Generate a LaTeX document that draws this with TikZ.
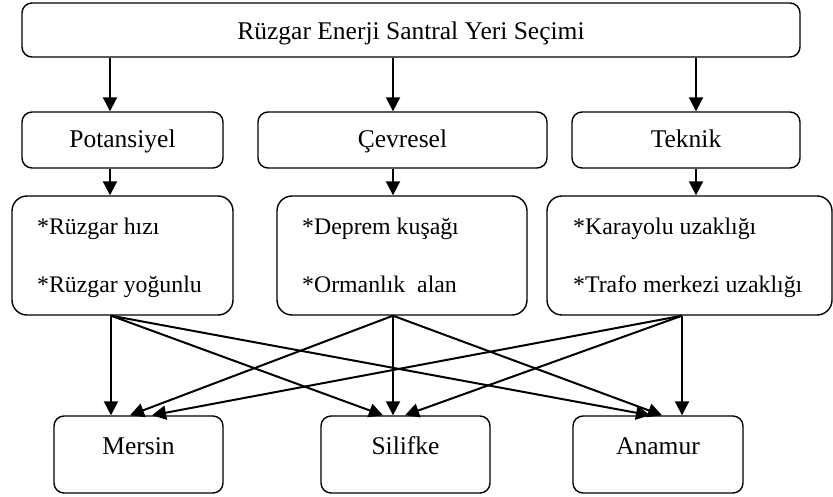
\documentclass[tikz,border=0pt]{standalone}
\usepackage{fontspec}
\setmainfont{Liberation Serif}
\usetikzlibrary{arrows.meta,calc}
\begin{document}
\begin{tikzpicture}[x=1pt,y=-1pt,
  box/.style={draw, line width=1.4pt, rounded corners=10pt, inner sep=0pt},
  bigbox/.style={box, rounded corners=15pt},
  arr/.style={line width=2pt, -{Triangle[length=14pt,width=14pt]}},
  hd/.style={font=\fontsize{25.5}{28}\selectfont},
  it/.style={font=\fontsize{23.8}{26}\selectfont, anchor=base west, inner sep=0pt}]
\useasboundingbox (0,0) rectangle (833,497);

% top
\node[box, hd, minimum width=778pt, minimum height=54pt, text height=20pt, text depth=0pt] (top) at (411,30) {Rüzgar Enerji Santral Yeri Seçimi};

% headers
\node[box, hd, minimum width=201pt, minimum height=56pt, text height=18pt, text depth=2pt] (pot) at (122.5,140) {Potansiyel};
\node[box, hd, minimum width=289pt, minimum height=56pt, text height=18pt, text depth=2pt] (cev) at (402.5,140) {Çevresel};
\node[box, hd, minimum width=228pt, minimum height=56pt, text height=18pt, text depth=2pt] (tek) at (686,140) {Teknik};

% item boxes
\node[bigbox, minimum width=221pt, minimum height=119pt] (iL) at (122.5,255.5) {};
\node[bigbox, minimum width=250pt, minimum height=119pt] (iM) at (402,255.5) {};
\node[bigbox, minimum width=285pt, minimum height=119pt] (iR) at (689.5,255.5) {};

\node[it] (l1) at (37,235) {*Rüzgar hızı};
\node[it] (l2) at (37,293) {*Rüzgar yoğunlu};
\node[it] (m1) at (302,235) {*Deprem kuşağı};
\node[it] (m2) at (302,293) {*Ormanlık\ \ alan};
\node[it] (r1) at (573,235) {*Karayolu uzaklığı};
\node[it] (r2) at (573,293) {*Trafo merkezi uzaklığı};

% bottom boxes
\node[box, hd, minimum width=169pt, minimum height=77pt, text height=12pt, text depth=12pt] (mer) at (138.5,454.5) {Mersin};
\node[box, hd, minimum width=169pt, minimum height=77pt, text height=12pt, text depth=12pt] (sil) at (405.5,454.5) {Silifke};
\node[box, hd, minimum width=170pt, minimum height=77pt, text height=12pt, text depth=12pt] (ana) at (658,454.5) {Anamur};

% top -> headers
\draw[arr] ($(top.south)+(-301,0)$) -- ($(pot.north)+(-12.5,0)$);
\draw[arr] ($(top.south)+(-18,0)$) -- ($(cev.north)+(-9.5,0)$);
\draw[arr] ($(top.south)+(285,0)$) -- ($(tek.north)+(10,0)$);

% headers -> items
\draw[arr] ($(pot.south)+(-12.5,0)$) -- ($(iL.north)+(-12.5,0)$);
\draw[arr] ($(cev.south)+(-9.5,0)$) -- ($(iM.north)+(-9,0)$);
\draw[arr] ($(tek.south)+(10,0)$) -- ($(iR.north)+(6.5,0)$);

% sources
\coordinate (s1) at ($(iL.south)+(-11.5,0)$);
\coordinate (s2) at ($(iM.south)+(-9,0)$);
\coordinate (s3) at ($(iR.south)+(-7.5,0)$);

% to Mersin
\draw[arr] (s1) -- ($(mer.north)+(-27.5,0)$);
\draw[arr] (s2) -- ($(mer.north)+(-8.5,0)$);
\draw[arr] (s3) -- ($(mer.north)+(13.5,0)$);
% to Silifke
\draw[arr] (s1) -- ($(sil.north)+(-22.5,0)$);
\draw[arr] (s2) -- ($(sil.north)+(-12.5,0)$);
\draw[arr] (s3) -- ($(sil.north)+(-0.5,0)$);
% to Anamur
\draw[arr] (s1) -- ($(ana.north)+(-8,0)$);
\draw[arr] (s2) -- ($(ana.north)+(4,0)$);
\draw[arr] (s3) -- ($(ana.north)+(24,0)$);
\end{tikzpicture}
\end{document}
